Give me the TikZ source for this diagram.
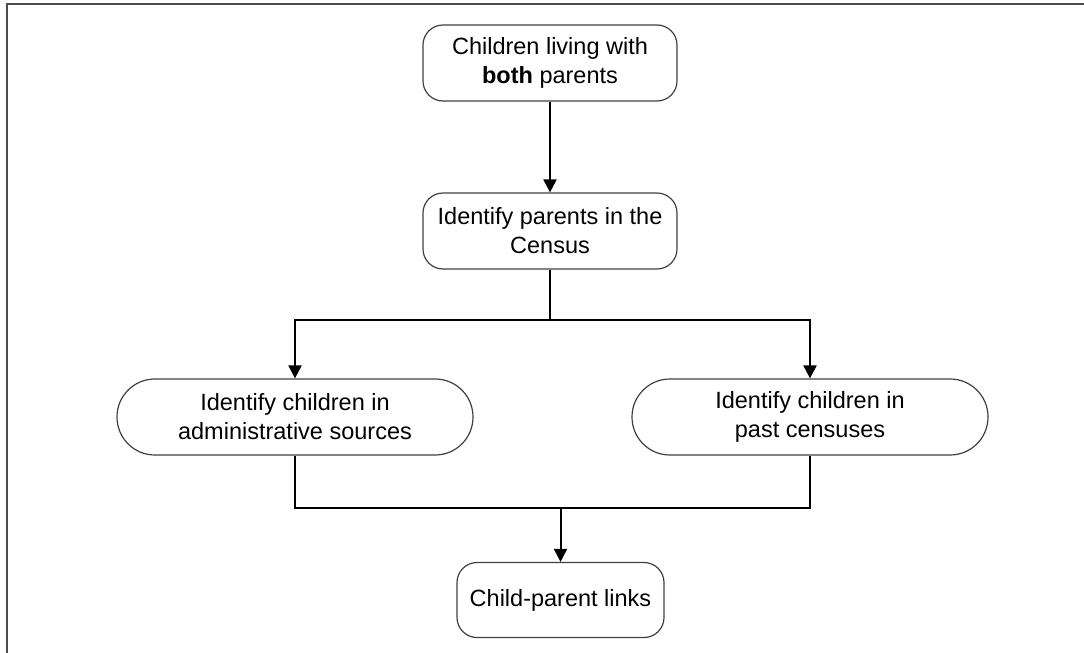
\documentclass[tikz,border=0pt]{standalone}
\usepackage{fontspec}
\setmainfont{Liberation Sans}
\usetikzlibrary{arrows.meta}
\begin{document}
\begin{tikzpicture}[x=1pt,y=-1pt,
  box/.style={draw=black!75,line width=1.2pt,fill=white,rounded corners=20pt,inner sep=0pt,align=center,
    font=\fontsize{23.5}{29}\selectfont,text=black},
  conn/.style={line width=2pt,black},
  arr/.style={conn,-{Triangle[length=13pt,width=13pt]}}]
\useasboundingbox (0,0) rectangle (1084,653);
\begin{scope}
\clip (0,0) rectangle (1084,653);
\draw[black!70,line width=2pt] (7,4) rectangle (1100,680);
\end{scope}
\node[box,minimum width=254pt,minimum height=76pt] (n1) at (550,63) {Children living with\\\textbf{both} parents};
\node[box,minimum width=254pt,minimum height=76pt] (n2) at (550,231) {Identify parents in the\\Census};
\node[box,rounded corners=37.9pt,minimum width=356pt,minimum height=76pt] (n3) at (295,417) {Identify children in\\administrative sources};
\node[box,rounded corners=37.9pt,minimum width=356pt,minimum height=76pt] (n4) at (810,417) {Identify children in\\past censuses};
\node[box,minimum width=207pt,minimum height=75pt] (n5) at (560.5,600) {Child-parent links};
\coordinate (s) at (550,320);
\coordinate (j) at (560.5,508);
\draw[arr] (n1.south) -- (n2.north);
\draw[conn] (n2.south) -- (s);
\draw[arr] (s) -| (n3.north);
\draw[arr] (s) -| (n4.north);
\draw[conn] (n3.south) |- (j) -| (n4.south);
\draw[arr] (j) -- (n5.north);
\end{tikzpicture}
\end{document}
